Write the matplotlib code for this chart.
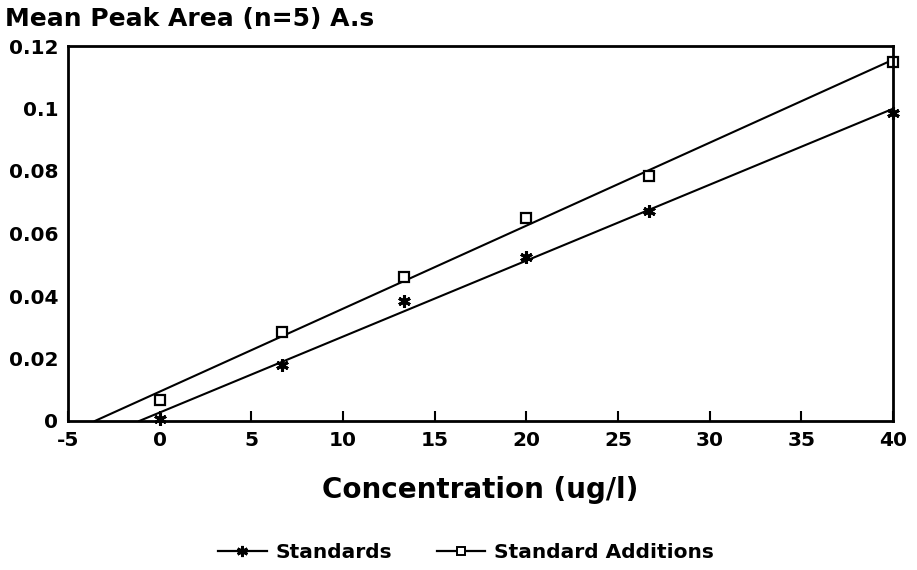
import numpy as np
import matplotlib
matplotlib.use("Agg")
import matplotlib.pyplot as plt

conc = [0, 6.67, 13.33, 20, 26.67, 40]
standards = [0.0008, 0.018, 0.0384, 0.0525, 0.0672, 0.0986]
additions = [0.0067, 0.0285, 0.0461, 0.065, 0.0784, 0.1149]
xticks = [-5, 0, 5, 10, 15, 20, 25, 30, 35, 40]
yticks = [0, 0.02, 0.04, 0.06, 0.08, 0.1, 0.12]
ytick_labels = ["0", "0.02", "0.04", "0.06", "0.08", "0.1", "0.12"]

plt.rcParams['font.family'] = ['DejaVu Sans']
plt.rcParams['font.weight'] = 'bold'

fig = plt.figure(figsize=(9.17, 5.70), dpi=100)
ax = fig.add_axes([68/917, 1-421/570, (893-68)/917, (421-46)/570])

def fitline(x, y):
    m, b = np.polyfit(x, y, 1)
    x0 = -b / m
    xs = np.array([x0, 40])
    return xs, m * xs + b

xs, ys = fitline(conc, standards)
ax.plot(xs, ys, color='black', lw=1.5)
xa, ya = fitline(conc, additions)
ax.plot(xa, ya, color='black', lw=1.5)

ax.plot(conc, standards, linestyle='none', marker=(6, 2, 0), ms=9, mew=2.2,
        color='black', clip_on=False)
ax.plot(conc, additions, linestyle='none', marker='s', ms=7, mew=1.6,
        markerfacecolor='white', markeredgecolor='black', clip_on=False)

# legend handles
h1, = ax.plot([], [], color='black', lw=1.6, marker=(6, 2, 0), ms=8, mew=2.0)
h2, = ax.plot([], [], color='black', lw=1.6, marker='s', ms=6, mew=1.4,
              markerfacecolor='white', markeredgecolor='black')

ax.set_xlim(-5, 40)
ax.set_ylim(0, 0.12)
ax.set_xticks(xticks)
ax.set_xticklabels([str(t) for t in xticks])
ax.set_yticks(yticks)
ax.set_yticklabels(ytick_labels)
ax.tick_params(axis='both', direction='in', length=7, width=1.5, labelsize=14.5, pad=7)
ax.tick_params(axis='y', length=0)
for lbl in ax.get_xticklabels() + ax.get_yticklabels():
    lbl.set_fontweight('bold')
for s in ax.spines.values():
    s.set_linewidth(2)

ax.set_xlabel("Concentration (ug/l)", fontsize=20, fontweight='bold', labelpad=19)
fig.text(5/917, 1-19/570, "Mean Peak Area (n=5) A.s", fontsize=18, fontweight='bold',
         va='center', ha='left')

fig.legend([h1, h2], ["Standards", "Standard Additions"], loc='center',
           bbox_to_anchor=(466/917, 1-553/570), ncol=2, frameon=False,
           prop={'size': 14.5, 'weight': 'bold'}, handlelength=2.4,
           handletextpad=0.45, columnspacing=2.2)

fig.savefig("out.png", dpi=100)
